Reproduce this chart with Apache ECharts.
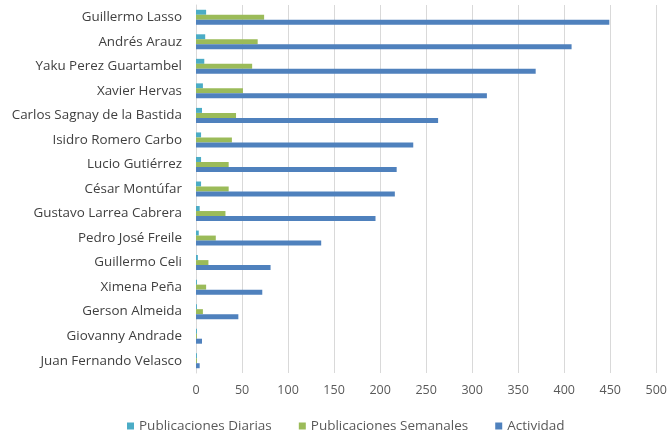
<!DOCTYPE html>
<html>
<head>
<meta charset="utf-8">
<script src="https://cdn.jsdelivr.net/npm/echarts@6/dist/echarts.min.js"></script>
<style>
  html, body { margin: 0; padding: 0; background: #ffffff; }
  #chart { width: 670px; height: 437px; }
</style>
</head>
<body>
<div id="chart"></div>
<script>
// Candidates, top to bottom
const candidatos = [
  'Guillermo Lasso', 'Andrés Arauz', 'Yaku Perez Guartambel', 'Xavier Hervas',
  'Carlos Sagnay de la Bastida', 'Isidro Romero Carbo', 'Lucio Gutiérrez',
  'César Montúfar', 'Gustavo Larrea Cabrera', 'Pedro José Freile',
  'Guillermo Celi', 'Ximena Peña', 'Gerson Almeida', 'Giovanny Andrade',
  'Juan Fernando Velasco'
];
const publicacionesDiarias = [11, 10, 9, 7.5, 6.5, 5.5, 5.5, 5.5, 4, 3, 2, 1, 1, 1, 1];
const publicacionesSemanales = [74, 67, 61, 51, 43.5, 39, 35.5, 35.5, 32, 21.5, 13.5, 11, 7.5, 1, 1];
const actividad = [449, 408, 369, 316, 263, 236, 218, 216, 195, 136, 81, 72, 46, 6.5, 4];
const ticksX = { min: 0, max: 500, interval: 50 };

const labelFont = 'Open Sans';
const chart = echarts.init(document.getElementById('chart'), null, { renderer: 'canvas' });

const mkSeries = (name, data, color) => ({
  name, type: 'bar', data,
  barWidth: 5, barGap: '0%',
  itemStyle: { color },
  emphasis: { disabled: true }
});

chart.setOption({
  animation: false,
  textStyle: { fontFamily: labelFont },
  grid: { left: 196, right: 13, top: 5, bottom: 64, containLabel: false },
  legend: {
    bottom: -1,
    left: 122,
    itemWidth: 7, itemHeight: 7, itemGap: 27,
    icon: 'rect',
    textStyle: { color: '#595959', fontSize: 13.5, fontFamily: labelFont },
    data: ['Publicaciones Diarias', 'Publicaciones Semanales', 'Actividad']
  },
  xAxis: {
    type: 'value',
    min: ticksX.min, max: ticksX.max, interval: ticksX.interval,
    axisLine: { show: false },
    axisTick: { show: false },
    axisLabel: { color: '#595959', fontSize: 12.5, margin: 11, fontFamily: labelFont },
    splitLine: { lineStyle: { color: '#d9d9d9', width: 1 } }
  },
  yAxis: {
    type: 'category',
    inverse: true,
    data: candidatos,
    axisLine: { lineStyle: { color: '#d9d9d9' } },
    axisTick: { show: false },
    axisLabel: { color: '#404040', fontSize: 13.4, margin: 14, fontFamily: labelFont }
  },
  series: [
    mkSeries('Publicaciones Diarias', publicacionesDiarias, '#4BACC6'),
    mkSeries('Publicaciones Semanales', publicacionesSemanales, '#9BBB59'),
    mkSeries('Actividad', actividad, '#4F81BD')
  ]
});
</script>
</body>
</html>
